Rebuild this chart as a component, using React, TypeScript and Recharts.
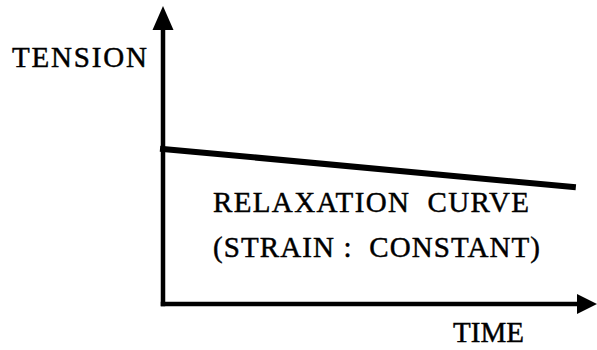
import { Line, LineChart, XAxis, YAxis } from "recharts";

// relaxation curve: tension falls slowly while strain is held constant
const time = [0, 99];
const tension = [56.6, 42.7];

const data = time.map((t, i) => ({ t, tension: tension[i] }));

const textStyle = {
  fontFamily: "Liberation Serif",
  fontSize: 29,
  fill: "#000",
  stroke: "#000",
  strokeWidth: 0.45,
  whiteSpace: "pre" as const,
};

export default function App() {
  return (
    <div style={{ position: "absolute", left: 0, top: 0, background: "#fff" }}>
      <LineChart
        width={597}
        height={350}
        data={data}
        margin={{ top: 30, right: 20, left: 162, bottom: 45 }}
      >
        <defs>
          <marker
            id="arrowUp"
            markerUnits="userSpaceOnUse"
            markerWidth={26}
            markerHeight={24}
            refX={0}
            refY={10.5}
            orient="auto-start-reverse"
            viewBox="0 0 26 21"
          >
            <path d="M0,0 L24,10.5 L0,21 Z" fill="#000" />
          </marker>
          <marker
            id="arrowRight"
            markerUnits="userSpaceOnUse"
            markerWidth={21}
            markerHeight={20}
            refX={0}
            refY={10}
            orient="auto"
            viewBox="0 0 21 20"
          >
            <path d="M0,0 L20,10 L0,20 Z" fill="#000" />
          </marker>
        </defs>
        <XAxis
          dataKey="t"
          type="number"
          domain={[0, 100]}
          height={1}
          tick={false}
          tickLine={false}
          axisLine={{
            stroke: "#000",
            strokeWidth: 4.5,
            strokeLinecap: "square",
            markerEnd: "url(#arrowRight)",
          }}
        />
        <YAxis
          type="number"
          domain={[0, 100]}
          width={1}
          tick={false}
          tickLine={false}
          axisLine={{
            stroke: "#000",
            strokeWidth: 4.5,
            strokeLinecap: "square",
            markerStart: "url(#arrowUp)",
          }}
        />
        <Line
          type="linear"
          dataKey="tension"
          stroke="#000"
          strokeWidth={6}
          strokeLinecap="square"
          dot={false}
          activeDot={false}
          isAnimationActive={false}
        />
        <text x={12} y={67} textLength={135} style={textStyle}>
          TENSION
        </text>
        <text x={213} y={212} textLength={316} style={textStyle}>
          {"RELAXATION  CURVE"}
        </text>
        <text x={213} y={257} textLength={327} style={textStyle}>
          {"(STRAIN :  CONSTANT)"}
        </text>
        <text x={453} y={342} textLength={71} style={textStyle}>
          TIME
        </text>
      </LineChart>
    </div>
  );
}
